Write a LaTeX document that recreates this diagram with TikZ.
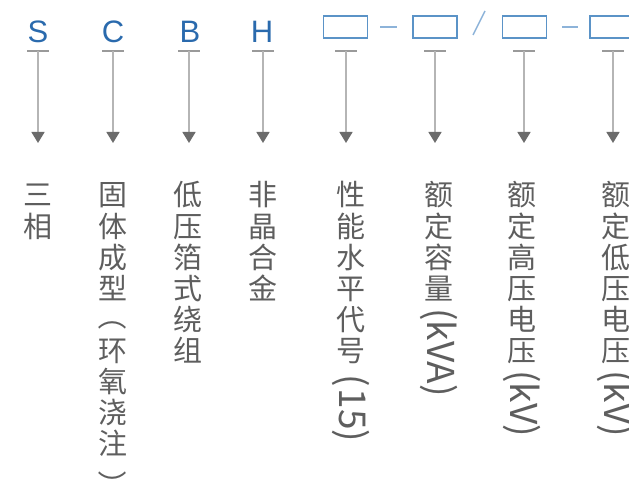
\documentclass[tikz,border=0pt]{standalone}
\usepackage{fontspec}
\newfontfamily\cjk{Noto Sans CJK SC}
\newfontfamily\latf{Liberation Sans}
\usetikzlibrary{arrows.meta}
\definecolor{codeblue}{HTML}{2A6AAD}
\definecolor{boxblue}{HTML}{5B93C7}
\definecolor{dashblue}{HTML}{8DB3D9}
\definecolor{txtgray}{HTML}{5E5E5E}
\definecolor{bargray}{HTML}{9A9A9A}
\definecolor{linegray}{HTML}{B5B5B5}
\definecolor{tipgray}{HTML}{6B6B6B}
\tikzset{
  code/.style={font=\latf\fontsize{31}{31}\selectfont, text=codeblue, inner sep=0pt, anchor=base},
  boxnode/.style={draw=boxblue, line width=1.4pt, minimum width=44pt, minimum height=22pt, inner sep=0pt},
  sep/.style={draw=dashblue, line width=1.4pt},
  tbar/.style={draw=bargray, line width=1.4pt},
  arr/.style={draw=linegray, line width=1.5pt, -{Triangle[width=13pt,length=11pt,color=tipgray]}},
  vch/.style={font=\cjk\fontsize{29}{31}\selectfont, text=txtgray, inner sep=0pt},
  vpar/.style={font=\cjk\fontsize{29}{31}\selectfont, text=txtgray, inner sep=0pt, rotate=-90},
  vlat/.style={font=\cjk\fontsize{37}{37}\selectfont, text=txtgray, inner sep=0pt, rotate=-90, anchor=west}
}
\newcommand\vcol[4]{% name, x, first baseline, chars
  \foreach \ch [count=\i] in {#4} {\node[vch, anchor=base] (#1-\i) at (#2, {#3+31*(\i-1)}) {\ch};}}
\begin{document}
\begin{tikzpicture}[x=1pt,y=-1pt]
\useasboundingbox (0,0) rectangle (629,481);
% top codes
\node[code] (S) at (38,43) {S};
\node[code] (C) at (113,43) {C};
\node[code] (B) at (190,43) {B};
\node[code] (H) at (262,43) {H};
\node[boxnode] (b1) at (345.5,27) {};
\node[boxnode] (b2) at (435,27) {};
\node[boxnode] (b3) at (524.5,27) {};
\node[boxnode] (b4) at (612,27) {};
\coordinate (d1a) at (380,27); \coordinate (d1b) at (397,27);
\coordinate (d2a) at (562,27); \coordinate (d2b) at (578,27);
\coordinate (sla) at (473,35); \coordinate (slb) at (485,11);
\draw[sep] (d1a) -- (d1b);
\draw[sep] (d2a) -- (d2b);
\draw[sep] (sla) -- (slb);
% connectors
\foreach \n/\x in {1/38,2/113,3/189,4/263,5/346,6/435,7/524,8/613} {
  \coordinate (t\n) at (\x,51);
  \coordinate (a\n) at (\x,143);
  \draw[tbar] ([xshift=-11pt]t\n) -- ([xshift=11pt]t\n);
  \draw[arr] (t\n) -- (a\n);
}
% vertical texts
\vcol{c1}{38}{206}{三,相}
\vcol{c2}{113}{206}{固,体,成,型}
\node[vpar] (c2-open) at (113,316) {（};
\vcol{c2b}{113}{361}{环,氧,浇,注}
\node[vpar] (c2-close) at (113,485) {）};
\vcol{c3}{188}{206}{低,压,箔,式,绕,组}
\vcol{c4}{263}{206}{非,晶,合,金}
\vcol{c5}{351}{206}{性,能,水,平,代,号}
\node[vlat] (c5-lat) at (351,374) {(\hspace{2pt}15)};
\vcol{c6}{439}{206}{额,定,容,量}
\node[vlat] (c6-lat) at (439,308) {(kVA)};
\vcol{c7}{522}{206}{额,定,高,压,电,压}
\node[vlat] (c7-lat) at (522,370) {(kV)};
\vcol{c8}{616}{206}{额,定,低,压,电,压}
\node[vlat] (c8-lat) at (616,370) {(kV)};
\end{tikzpicture}
\end{document}
